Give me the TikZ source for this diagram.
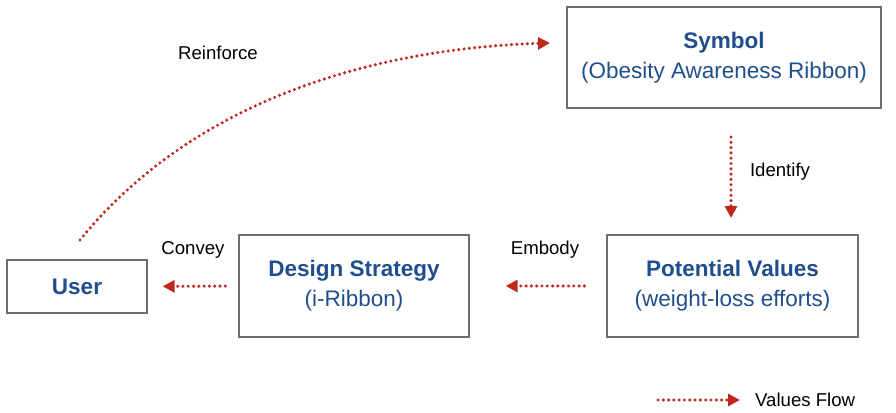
\documentclass[tikz,border=0pt]{standalone}
\usepackage{fontspec}
\setmainfont{Liberation Sans}
\usetikzlibrary{arrows.meta}
\definecolor{titleblue}{RGB}{31,78,140}
\definecolor{flowred}{RGB}{192,40,30}
\definecolor{boxgray}{RGB}{110,110,110}
\begin{document}
\begin{tikzpicture}[x=1pt,y=-1pt,
  box/.style={draw=boxgray,line width=1.3pt,rectangle,inner sep=0pt,align=center,
    text=titleblue,font=\fontsize{22.5}{30}\selectfont},
  lbl/.style={inner sep=0pt,font=\fontsize{18.6}{22}\selectfont,text=black},
  flow/.style={draw=flowred,line width=3.4pt,line cap=round,dash pattern=on 0pt off 5.3pt,
    -{Triangle[length=12pt,width=12pt,fill=flowred]}}]
\useasboundingbox (0,0) rectangle (896,412);
\node[box,minimum width=314pt,minimum height=101pt] (sym) at (724,57.5)
  {\textbf{Symbol}\\(Obesity Awareness Ribbon)};
\node[box,minimum width=140pt,minimum height=53pt] (user) at (77,286.5) {\textbf{User}};
\node[box,minimum width=230pt,minimum height=102pt] (ds) at (354,286)
  {\textbf{Design Strategy}\\(i-Ribbon)};
\node[box,minimum width=251pt,minimum height=102pt] (pv) at (732.5,286)
  {\textbf{Potential Values}\\(weight-loss efforts)};
\node[lbl] (lre) at (218,53) {Reinforce};
\node[lbl] (lid) at (780,172) {Identify};
\node[lbl] (lem) at (545,250) {Embody};
\node[lbl] (lco) at (193,250) {Convey};
\node[lbl,anchor=west] (lvf) at (755,400) {Values Flow};
\coordinate (rs) at (80,240);
\coordinate (re) at (550,43);
\coordinate (lf1) at (658,400);
\coordinate (lf2) at (740,400);
\draw[flow,shorten <=29pt,shorten >=17pt] (731,108) -- (731,235);
\draw[flow,shorten <=22pt,shorten >=36pt] (pv.west) -- (ds.east);
\draw[flow,shorten <=13pt,shorten >=15pt] (ds.west) -- (user.east);
\draw[flow] (rs) .. controls (200,92) and (390,48) .. (re);
\draw[flow] (lf1) -- (lf2);
\end{tikzpicture}
\end{document}
